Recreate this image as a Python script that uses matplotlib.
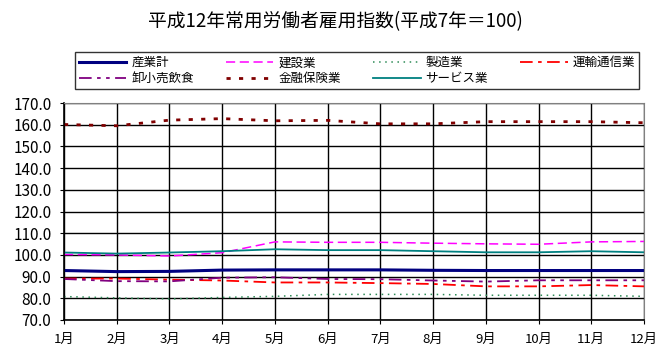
import numpy as np
import matplotlib
matplotlib.use("Agg")
import matplotlib.pyplot as plt

plt.rcParams['font.family'] = ['Noto Sans CJK JP', 'DejaVu Sans']

months = ["1月", "2月", "3月", "4月", "5月", "6月", "7月", "8月", "9月", "10月", "11月", "12月"]

# 各産業の雇用指数 (平成7年=100)
sangyokei = [92.8, 92.3, 92.4, 93.0, 93.1, 93.1, 93.1, 92.9, 92.8, 92.8, 92.8, 92.8]
kensetsu = [100.2, 100.0, 99.5, 101.0, 106.0, 105.8, 105.8, 105.4, 105.1, 104.9, 106.0, 106.2]
seizou = [80.8, 80.2, 79.7, 80.4, 80.9, 81.8, 81.8, 81.8, 81.4, 81.4, 81.4, 80.9]
unyu = [89.1, 89.1, 88.6, 88.2, 87.3, 87.3, 87.0, 86.6, 85.5, 85.5, 86.1, 85.5]
oroshi = [88.9, 87.9, 87.8, 89.5, 89.7, 88.9, 88.8, 88.2, 87.7, 88.3, 88.3, 88.3]
kinyu = [160.1, 159.5, 162.1, 162.8, 161.8, 162.0, 160.4, 160.4, 161.4, 161.4, 161.4, 160.9]
service = [101.1, 100.6, 101.1, 101.7, 102.6, 102.2, 102.2, 101.7, 101.2, 101.2, 101.7, 101.2]

x = np.arange(len(months))

fig = plt.figure(figsize=(6.67, 3.53), dpi=100)
ax = fig.add_axes([64/667, 1-320/353, 580/667, 217/353])

l1, = ax.plot(x, sangyokei, color="#000080", lw=2.2, label="産業計")
l2, = ax.plot(x, kensetsu, color="#FF00FF", lw=1.1, dashes=(6, 3), label="建設業")
l3, = ax.plot(x, seizou, color="#2E8B57", lw=1.1, dashes=(1, 3), label="製造業")
l4, = ax.plot(x, unyu, color="#FF0000", lw=1.3, dashes=(7, 3, 2, 3), label="運輸通信業")
l5, = ax.plot(x, oroshi, color="#800080", lw=1.3, dashes=(7, 3, 2, 3, 2, 3), label="卸小売飲食")
l6, = ax.plot(x, kinyu, color="#800000", lw=2.0, dashes=(1.5, 3.0), label="金融保険業")
l7, = ax.plot(x, service, color="#008080", lw=1.3, label="サービス業")

ax.set_xlim(0, 11)
ax.set_ylim(70, 170)
ax.set_yticks(np.arange(70, 171, 10))
ax.set_yticklabels(["%.1f" % v for v in np.arange(70, 171, 10)], fontsize=11)
ax.set_xticks(x)
ax.set_xticklabels(months, fontsize=9.5)
ax.grid(True, color="black", lw=1.0)
ax.set_axisbelow(True)
ax.tick_params(axis="both", length=3, color="black")
ax.tick_params(axis="y", pad=6)
ax.tick_params(axis="x", pad=6)
for s in ["top", "right"]:
    ax.spines[s].set_color("#808080")
for s in ["left", "bottom"]:
    ax.spines[s].set_color("black")
    ax.spines[s].set_linewidth(1.2)

fig.text(335/667, 1-22/353, "平成12年常用労働者雇用指数(平成7年＝100)", ha="center", va="center", fontsize=13.5)

handles = [l1, l5, l2, l6, l3, l7, l4]
leg = fig.legend(handles=handles, loc="lower left", ncol=4, mode="expand",
                 bbox_to_anchor=(75/667, 1-89/353, 564/667, 36/353),
                 borderaxespad=0, fontsize=9, frameon=True, fancybox=False,
                 handlelength=3.8, handletextpad=0.4, labelspacing=0.25,
                 borderpad=0.3)
leg.get_frame().set_edgecolor("black")
leg.get_frame().set_linewidth(1.0)

fig.savefig("out.png", dpi=100)
